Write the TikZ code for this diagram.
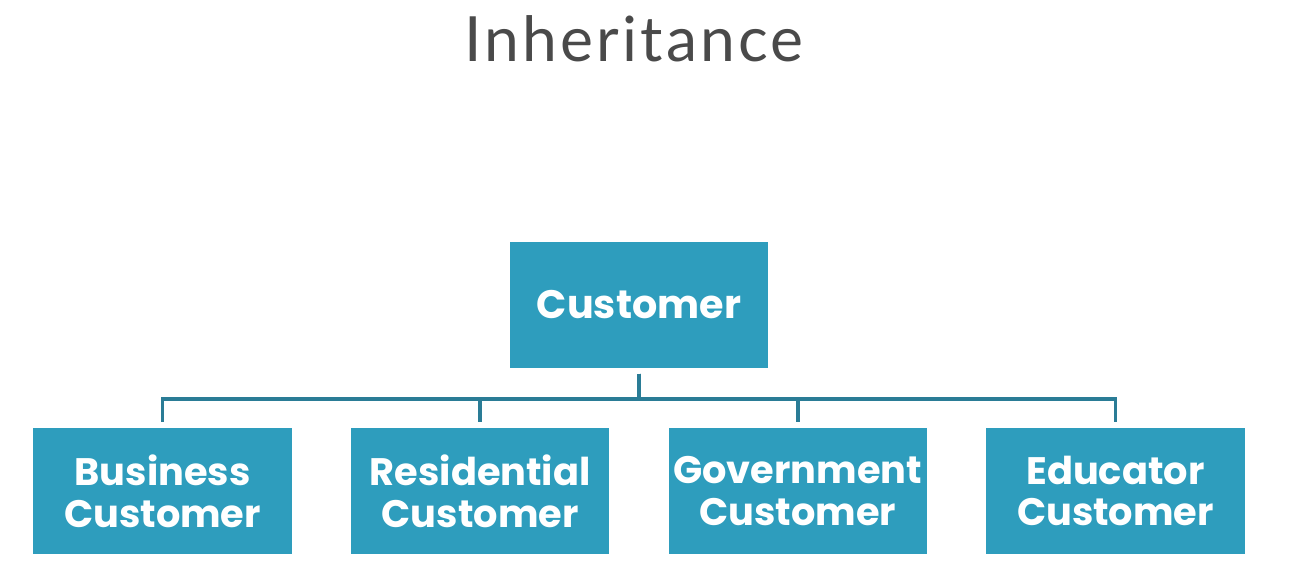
\documentclass[tikz,border=0pt]{standalone}
\usepackage{fontspec}
\usepackage{tikz}
\setmainfont{Lato}
\newfontfamily\klassefont{Poppins}
\newfontfamily\titelfont{Lato}[LetterSpace=5]

\definecolor{klassblau}{HTML}{2E9DBD}
\definecolor{linienblau}{HTML}{2A7C96}
\definecolor{titelgrau}{HTML}{4A4A4A}

\begin{document}
\begin{tikzpicture}[
	level distance=3.72cm, sibling distance=6.353cm,
	klasse/.style={fill=klassblau, text=white, align=center, inner sep=0pt,
		minimum width=5.17cm, minimum height=2.53cm,
		font=\klassefont\bfseries\fontsize{21.8}{23.8}\selectfont},
	titel/.style={text=titelgrau, anchor=base, font=\titelfont\fontsize{35.5}{40}\selectfont},
	edge from parent/.style={draw=linienblau, line width=2.2pt,
		shorten <=0.1cm, shorten >=0.1cm},
	edge from parent path={(\tikzparentnode.south) -- ++(0,-0.6) -| (\tikzchildnode.north)}
	]
	\useasboundingbox (0,0) rectangle (25.88,-11.54);
	\node[titel] (titel) at (12.68,-1.22) {Inheritance};
	\path
	node[klasse, font=\klassefont\bfseries\fontsize{22.6}{25}\selectfont] (customer) at (12.78,-6.10) {Customer}
		child {node[klasse] (business) {Business\\Customer}}
		child {node[klasse] (residential) {Residential\\Customer}}
		child {node[klasse] (government) {Government\\Customer}}
		child {node[klasse] (educator) {Educator\\Customer}};
\end{tikzpicture}
\end{document}
